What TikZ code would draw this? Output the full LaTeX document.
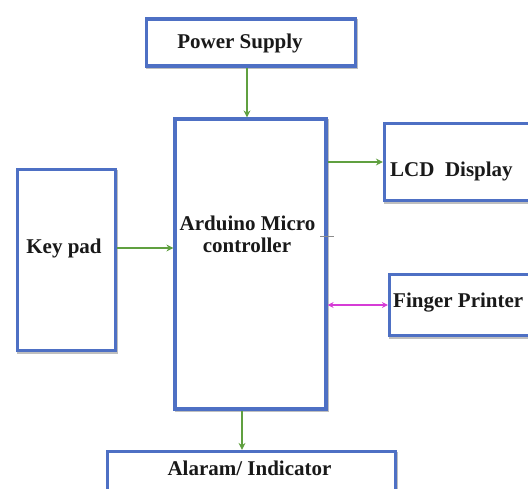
\documentclass[tikz,border=0pt]{standalone}
\usepackage{fontspec}
\setmainfont{Liberation Serif}[BoldFont={Liberation Serif Bold}]
\usetikzlibrary{arrows.meta}
\definecolor{boxblue}{RGB}{78,112,196}
\definecolor{arrgreen}{RGB}{96,160,64}
\definecolor{arrpink}{RGB}{214,60,214}
\tikzset{
  blockbox/.style={draw=boxblue, line width=3.2pt, fill=white, inner sep=0pt,
    preaction={draw=black!25, line width=3pt, transform canvas={shift={(1pt,-1.5pt)}}}},
  lbl/.style={font=\fontsize{21}{23}\selectfont\bfseries, inner sep=0pt, text=black!90},
  arr/.style={draw=arrgreen, line width=2.4pt, -{Stealth[length=7pt,width=7pt]}},
  biarr/.style={draw=arrpink, line width=1.8pt, {Stealth[length=6pt,width=6pt]}-{Stealth[length=6pt,width=6pt]}},
}
\begin{document}
\begin{tikzpicture}[x=1pt,y=-1pt]
\useasboundingbox (0,0) rectangle (528,488);
\clip (0,0) rectangle (528,488);
\fill[white] (0,0) rectangle (528,488);
% boxes
\node[blockbox, minimum width=209pt, minimum height=47pt] (ps) at (251,42.5) {};
\node[blockbox, minimum width=151pt, minimum height=290pt] (ard) at (250.5,264) {};
\node[blockbox, minimum width=155pt, minimum height=77pt] (lcd) at (462,162) {};
\node[blockbox, minimum width=98pt, minimum height=181pt] (key) at (66.5,260) {};
\node[blockbox, minimum width=155pt, minimum height=61pt] (fp) at (467,305) {};
\node[blockbox, minimum width=288pt, minimum height=57pt] (al) at (251.5,480) {};
% labels
\node[lbl, anchor=base] (tps) at (240,48) {Power Supply};
\node[lbl, anchor=base] (tard1) at (247.5,230) {Arduino Micro};
\node[lbl, anchor=base] (tard2) at (247,252) {controller};
\node[lbl, anchor=base] (tkey) at (64,253) {Key pad};
\node[lbl, anchor=base west] (tlcd) at (390,176) {LCD\ \ Display};
\node[lbl, anchor=base west] (tfp) at (393,307) {Finger Printer};
\node[lbl, anchor=base] (tal) at (249.5,475) {Alaram/ Indicator};
% small tick
\coordinate (tk1) at (320,236);
\coordinate (tk2) at (334,236);
\draw[black!45, line width=0.8pt] (tk1) -- (tk2);
% connectors
\coordinate (kp) at ([yshift=12pt]key.east);
\coordinate (psa) at ([xshift=-3.5pt]ard.north);
\coordinate (ala) at ([xshift=-8.5pt]ard.south);
\draw[arr] (psa |- ps.south) -- (psa);
\draw[arr] (ard.east |- lcd.west) -- (lcd.west);
\draw[arr] (kp) -- (ard.west |- kp);
\draw[biarr] (ard.east |- fp.west) -- (fp.west);
\draw[arr] (ala) -- (ala |- al.north);
\end{tikzpicture}
\end{document}
